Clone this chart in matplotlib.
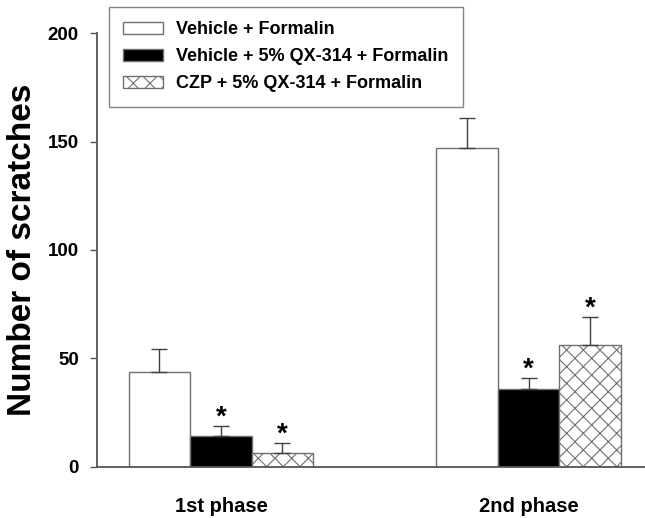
import matplotlib
matplotlib.use("Agg")
import matplotlib.pyplot as plt
import numpy as np

plt.rcParams['font.family'] = ['Liberation Sans', 'DejaVu Sans']
plt.rcParams['font.weight'] = 'bold'
plt.rcParams['hatch.linewidth'] = 0.8
plt.rcParams['hatch.color'] = '#444444'

phases = ['1st phase', '2nd phase']
groups = ['Vehicle + Formalin', 'Vehicle + 5% QX-314 + Formalin', 'CZP + 5% QX-314 + Formalin']
means = {
    'Vehicle + Formalin': [43.5, 147.0],
    'Vehicle + 5% QX-314 + Formalin': [14.0, 36.0],
    'CZP + 5% QX-314 + Formalin': [6.3, 56.0],
}
errs = {
    'Vehicle + Formalin': [11.0, 13.7],
    'Vehicle + 5% QX-314 + Formalin': [4.6, 4.8],
    'CZP + 5% QX-314 + Formalin': [4.5, 13.0],
}
significant = {
    'Vehicle + Formalin': [False, False],
    'Vehicle + 5% QX-314 + Formalin': [True, True],
    'CZP + 5% QX-314 + Formalin': [True, True],
}

styles = {
    'Vehicle + Formalin': dict(facecolor='white', hatch=None),
    'Vehicle + 5% QX-314 + Formalin': dict(facecolor='black', hatch=None),
    'CZP + 5% QX-314 + Formalin': dict(facecolor='white', hatch='xx'),
}

fig = plt.figure(figsize=(6.45, 5.18), dpi=100)
ax = fig.add_axes([97/645, 1 - 466.7/518, 1 - 97/645, (466.7 - 33.3)/518])

centers = np.array([1.0, 6.0])
width = 1.0
for i, g in enumerate(groups):
    x = centers + (i - 1) * width
    st = styles[g]
    ax.bar(x, means[g], width=width, color=st['facecolor'], edgecolor='#707070',
           linewidth=1.0, hatch=st['hatch'], label=g, zorder=2)
    ax.errorbar(x, means[g], yerr=[np.zeros(2), errs[g]], fmt='none',
                ecolor='#404040', elinewidth=1.0, capsize=5.5, capthick=1.0, zorder=3)
    for xi, m, e, s in zip(x, means[g], errs[g], significant[g]):
        if s:
            ax.annotate('*', xy=(xi, m + e), xytext=(0, 1), textcoords='offset points',
                        ha='center', va='baseline', fontsize=20, fontweight='bold')

ax.set_xlim(-1.016, 7.894)
ax.set_ylim(0, 200)
ax.set_yticks([0, 50, 100, 150, 200])
ax.set_xticks(centers)
ax.set_xticklabels(phases, fontsize=14.5, fontweight='bold')
ax.tick_params(axis='x', length=0, pad=22)
ax.tick_params(axis='y', length=5, width=1.0, color='#555555', pad=8, labelsize=13.5)
for lab in ax.get_yticklabels():
    lab.set_fontweight('bold')

for side in ['top', 'right']:
    ax.spines[side].set_visible(False)
for side in ['left', 'bottom']:
    ax.spines[side].set_color('#555555')
    ax.spines[side].set_linewidth(1.3)

ax.set_ylabel('Number of scratches', fontsize=24, fontweight='bold', labelpad=7)

leg = ax.legend(loc='upper left', bbox_to_anchor=(109/645, 1 - 7/518),
                bbox_transform=fig.transFigure, fontsize=13, frameon=True,
                fancybox=False, edgecolor='#666666', borderpad=0.8,
                handlelength=2.2, handleheight=0.6, handletextpad=0.7,
                labelspacing=0.55, borderaxespad=0)
leg.get_frame().set_linewidth(1.0)
for t in leg.get_texts():
    t.set_fontweight('bold')

fig.savefig('out.png', dpi=100)
